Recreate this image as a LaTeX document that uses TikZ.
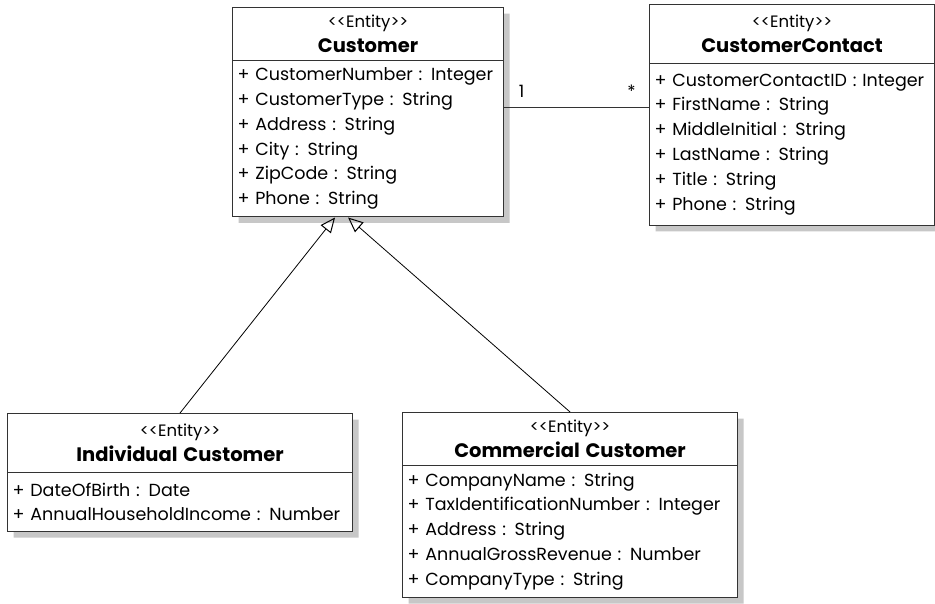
\documentclass[tikz,border=0pt]{standalone}
\usepackage{fontspec}
\setmainfont{Poppins}
\usetikzlibrary{shapes.multipart, arrows.meta, positioning, calc, shadows}

\newcommand{\entityhead}[1]{\fontsize{16.5}{23}\selectfont
  \makebox[\hsize][c]{<{}<Entity>{}>}\\
  \makebox[\hsize][c]{\fontsize{19.5}{23}\selectfont\bfseries #1}}

\begin{document}
\begin{tikzpicture}[
    x=1pt, y=-1pt,
    entity/.style={rectangle split, rectangle split parts=2, draw=black!80, line width=1.1pt, fill=white, anchor=north west, inner xsep=5pt, inner ysep=7pt, font=\fontsize{17.5}{24.8}\selectfont, drop shadow={shadow xshift=6pt, shadow yshift=-6pt, fill=black!22, opacity=1}},
    assoc/.style={draw=black!80, line width=0.9pt},
    inherit/.style={-{Triangle[open, length=15pt, width=13pt, line width=1pt]}, line width=0.8pt, black},
    mult/.style={font=\fontsize{17}{20}\selectfont, inner sep=1pt}
]

% Frame
\useasboundingbox[fill=white] (0,0) rectangle (935,603);

% ==================== ENTITIES ====================

\node[entity, text width=261pt] (cust) at (232,7) {\entityhead{Customer}
  \nodepart{two}\raggedright
  + CustomerNumber : Integer\\
  + CustomerType : String\\
  + Address : String\\
  + City : String\\
  + ZipCode : String\\
  + Phone : String};

\node[entity, text width=275pt, inner ysep=10pt] (contact) at (649,4) {\entityhead{CustomerContact}
  \nodepart{two}\raggedright
  + CustomerContactID : Integer\\
  + FirstName : String\\
  + MiddleInitial : String\\
  + LastName : String\\
  + Title : String\\
  + Phone : String};

\node[entity, text width=335pt, inner ysep=10pt] (indiv) at (7,413) {\entityhead{Individual Customer}
  \nodepart{two}\raggedright
  + DateOfBirth : Date\\
  + AnnualHouseholdIncome : Number};

\node[entity, text width=325pt] (comm) at (402,412) {\entityhead{Commercial Customer}
  \nodepart{two}\raggedright
  + CompanyName : String\\
  + TaxIdentificationNumber : Integer\\
  + Address : String\\
  + AnnualGrossRevenue : Number\\
  + CompanyType : String};

% ==================== RELATIONS ====================

% Association 1 -- *
\draw[assoc] ([yshift=5pt]cust.east) -- ([yshift=5pt]cust.east -| contact.west)
  node[mult, pos=0.12, above=8pt] {1}
  node[mult, pos=0.88, above=8pt] {*};

% Generalization
\draw[inherit] (indiv.north) -- ([xshift=-33pt]cust.south);
\draw[inherit] (comm.north) -- ([xshift=-20pt]cust.south);

\end{tikzpicture}
\end{document}
